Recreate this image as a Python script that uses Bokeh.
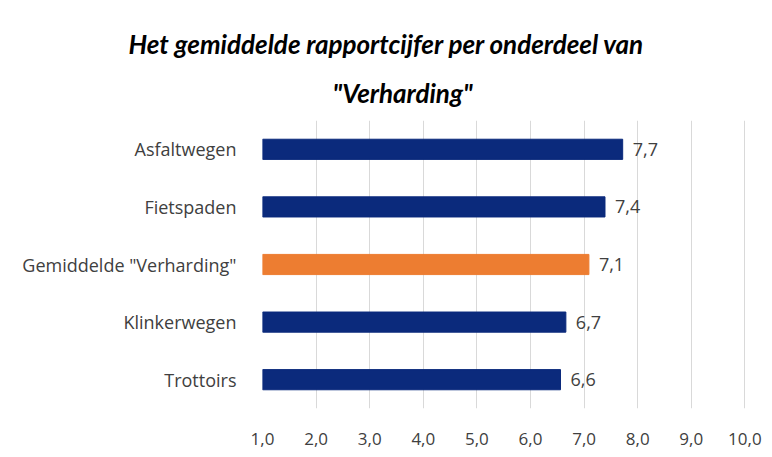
from bokeh.plotting import figure
from bokeh.models import FactorRange, Range1d, FixedTicker, ColumnDataSource, Title, CustomJSTickFormatter
from bokeh.core.properties import value
from bokeh.embed import file_html
from bokeh.resources import INLINE

categories = ["Asfaltwegen", "Fietspaden", 'Gemiddelde "Verharding"', "Klinkerwegen", "Trottoirs"]
scores = [7.72, 7.39, 7.09, 6.66, 6.56]
bar_colors = ["#0b2a7c", "#0b2a7c", "#ed7d31", "#0b2a7c", "#0b2a7c"]
x_ticks = [1, 2, 3, 4, 5, 6, 7, 8, 9, 10]
x_tick_labels = ["1,0", "2,0", "3,0", "4,0", "5,0", "6,0", "7,0", "8,0", "9,0", "10,0"]
title_lines = ["Het gemiddelde rapportcijfer per onderdeel van", '"Verharding"']

labels = [f"{v:.1f}".replace(".", ",") for v in scores]
src = ColumnDataSource(dict(cat=categories, val=scores, col=bar_colors, lab=labels,
                            left=[1.0] * len(scores)))

FONT = "Open Sans"
TFONT = "Lato"
FRAME_LEFT = 262

p = figure(width=764, height=449, output_backend="svg", toolbar_location=None,
           y_range=FactorRange(factors=list(reversed(categories))),
           x_range=Range1d(1, 10.03),
           min_border_left=FRAME_LEFT, min_border_right=18, min_border_bottom=41, min_border_top=120)

# outer (top) title line
p.title.text = title_lines[0]
p.title.align = "left"
p.title.offset = 128 - FRAME_LEFT
p.title.text_font = TFONT
p.title.text_font_size = "26px"
p.title.text_font_style = "bold italic"
p.title.text_color = "#000000"
p.title.standoff = 8

# inner (second) title line, closest to the plot
t2 = Title(text=title_lines[1], align="left", offset=332 - FRAME_LEFT,
           text_font=TFONT, text_font_size="26px", text_font_style="bold italic",
           text_color="#000000", standoff=23)
p.add_layout(t2, "above")

p.hbar(y="cat", left="left", right="val", height=0.35, color="col", source=src)
p.text(x="val", y="cat", text="lab", source=src, x_offset=10, text_baseline="middle",
       text_font=value(FONT), text_font_size="18px", text_color="#404040")

p.xaxis.ticker = FixedTicker(ticks=x_ticks)
p.xaxis.formatter = CustomJSTickFormatter(args=dict(tvals=x_ticks, tlabels=x_tick_labels), code="""
    const i = tvals.indexOf(Math.round(tick));
    return i >= 0 ? tlabels[i] : '';
""")
p.xaxis.axis_line_color = None
p.xaxis.major_tick_line_color = None
p.xaxis.minor_tick_line_color = None
p.xaxis.major_label_text_font = FONT
p.xaxis.major_label_text_font_size = "17px"
p.xaxis.major_label_text_color = "#404040"
p.xaxis.major_label_standoff = 18

p.yaxis.axis_line_color = None
p.yaxis.major_tick_line_color = None
p.yaxis.minor_tick_line_color = None
p.yaxis.major_label_text_font = FONT
p.yaxis.major_label_text_font_size = "18px"
p.yaxis.major_label_text_color = "#404040"
p.yaxis.major_label_standoff = 20

p.xgrid.grid_line_color = "#d9d9d9"
p.ygrid.grid_line_color = None
p.outline_line_color = None

open("out.html", "w").write(file_html(p, INLINE))
